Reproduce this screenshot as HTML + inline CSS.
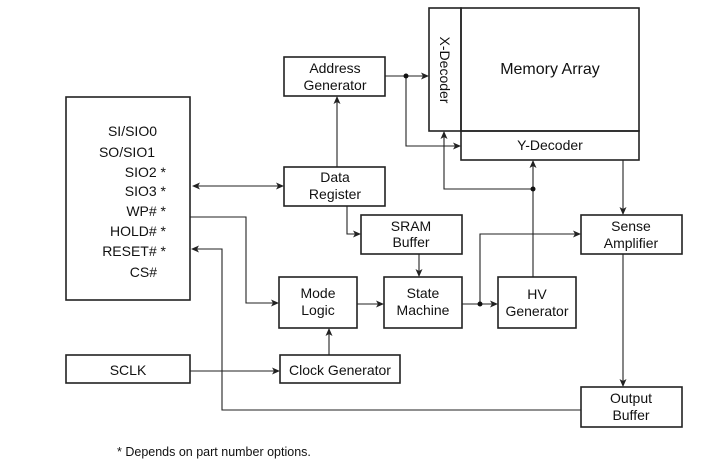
<!DOCTYPE html>
<html><head><style>body{margin:0;background:#fff}svg{display:block}</style></head><body>
<svg width="720" height="469" viewBox="0 0 720 469" xmlns="http://www.w3.org/2000/svg" font-family="Liberation Sans, sans-serif" font-size="14" fill="#111">
<defs><marker id="a" markerWidth="8" markerHeight="8" refX="7" refY="4" orient="auto" markerUnits="userSpaceOnUse"><path d="M0,0.5 L8,4 L0,7.5 L2,4z" fill="#222"/></marker>
<marker id="s" markerWidth="8" markerHeight="8" refX="1" refY="4" orient="auto" markerUnits="userSpaceOnUse"><path d="M8,0.5 L0,4 L8,7.5 L6,4z" fill="#222"/></marker></defs>
<g fill="none" stroke="#222" stroke-width="1.6">
<rect x="66" y="97" width="124" height="203"/>
<rect x="284" y="57" width="101" height="39"/>
<rect x="284" y="167" width="101" height="39"/>
<rect x="429" y="8" width="32" height="123"/>
<rect x="461" y="8" width="178" height="123"/>
<rect x="461" y="131" width="178" height="29"/>
<rect x="361" y="215" width="101" height="39"/>
<rect x="279" y="277" width="78" height="51"/>
<rect x="384" y="277" width="78" height="51"/>
<rect x="498" y="277" width="78" height="51"/>
<rect x="581" y="215" width="101" height="39"/>
<rect x="581" y="387" width="101" height="40"/>
<rect x="66" y="355" width="124" height="28"/>
<rect x="280" y="355" width="120" height="28"/>
</g>
<g fill="none" stroke="#222" stroke-width="1.1">
<path d="M193,186 H283" marker-start="url(#s)" marker-end="url(#a)"/>
<path d="M337,167 V97" marker-end="url(#a)"/>
<path d="M385,76 H428" marker-end="url(#a)"/>
<path d="M406,76 V146 H460" marker-end="url(#a)"/>
<path d="M533,277 V161" marker-end="url(#a)"/>
<path d="M533,189 H444 V132" marker-end="url(#a)"/>
<path d="M623,160 V214" marker-end="url(#a)"/>
<path d="M347,206 V234 H360" marker-end="url(#a)"/>
<path d="M419,254 V276" marker-end="url(#a)"/>
<path d="M357,304 H383" marker-end="url(#a)"/>
<path d="M462,304 H497" marker-end="url(#a)"/>
<path d="M480,304 V234 H580" marker-end="url(#a)"/>
<path d="M190,217 H246 V303 H278" marker-end="url(#a)"/>
<path d="M581,410 H222 V249 H192" marker-end="url(#a)"/>
<path d="M190,371 H279" marker-end="url(#a)"/>
<path d="M329,355 V329" marker-end="url(#a)"/>
<path d="M623,254 V386" marker-end="url(#a)"/>
</g>
<g fill="#111"><circle cx="406" cy="76" r="2.5"/><circle cx="533" cy="189" r="2.5"/><circle cx="480" cy="304" r="2.5"/></g>
<g text-anchor="end">
<text x="157" y="136">SI/SIO0</text>
<text x="155" y="157">SO/SIO1</text>
<text x="166" y="177">SIO2 *</text>
<text x="166" y="196">SIO3 *</text>
<text x="166" y="216">WP# *</text>
<text x="166" y="236">HOLD# *</text>
<text x="166" y="256">RESET# *</text>
<text x="157" y="277">CS#</text>
</g>
<g text-anchor="middle">
<text x="335" y="73">Address</text><text x="335" y="90">Generator</text>
<text x="335" y="182">Data</text><text x="335" y="199">Register</text>
<text x="550" y="74" font-size="16">Memory Array</text>
<text x="550" y="150">Y-Decoder</text>
<text x="411" y="231">SRAM</text><text x="411" y="247">Buffer</text>
<text x="318" y="298">Mode</text><text x="318" y="315">Logic</text>
<text x="423" y="298">State</text><text x="423" y="315">Machine</text>
<text x="537" y="299">HV</text><text x="537" y="316">Generator</text>
<text x="631" y="231">Sense</text><text x="631" y="248">Amplifier</text>
<text x="631" y="403">Output</text><text x="631" y="420">Buffer</text>
<text x="128" y="375">SCLK</text>
<text x="340" y="375">Clock Generator</text>
<text transform="translate(440,70) rotate(90)">X-Decoder</text>
</g>
<text x="117" y="456" font-size="12.5">* Depends on part number options.</text>
</svg>
</body></html>
